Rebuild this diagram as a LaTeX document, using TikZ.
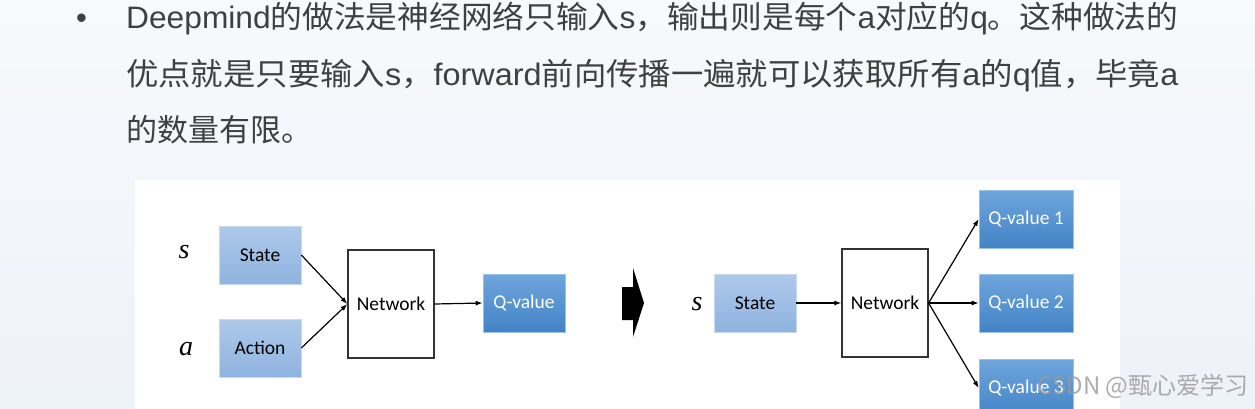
\documentclass[tikz,border=0pt]{standalone}
\usepackage{fontspec}
\usepackage{graphicx}
\setmainfont{Liberation Sans}
\newfontfamily\cjkfont{Noto Sans CJK SC}
\newfontfamily\calibrifont{Carlito}
\newfontfamily\varfont{Liberation Serif}
\usetikzlibrary{arrows.meta}
\newcommand{\zh}[1]{{\cjkfont #1}}
\definecolor{txt}{HTML}{404040}
\definecolor{lbtop}{HTML}{ADC9EA}
\definecolor{lbbot}{HTML}{8FB3DF}
\definecolor{dbtop}{HTML}{6FA6DD}
\definecolor{dbbot}{HTML}{4283C6}
\definecolor{bgtop}{HTML}{F7F9FC}
\definecolor{bgbot}{HTML}{EEF2F9}
\tikzset{
  bodyline/.style={anchor=base west, inner sep=0pt, text=txt, font=\fontsize{31}{31}\selectfont},
  lightbox/.style={rectangle, draw=lbtop!70!white, line width=0.6pt, top color=lbtop, bottom color=lbbot,
    minimum width=82pt, minimum height=58pt, inner sep=0pt, font=\calibrifont\fontsize{19.5}{19.5}\selectfont, text=black},
  darkbox/.style={rectangle, draw=dbtop!70!white, line width=0.6pt, top color=dbtop, bottom color=dbbot,
    minimum width=82pt, minimum height=58pt, inner sep=0pt, font=\calibrifont\fontsize{19.5}{19.5}\selectfont, text=white},
  netbox/.style={rectangle, draw=black!80, line width=1.2pt, fill=white,
    minimum width=86pt, minimum height=108pt, inner sep=0pt, font=\calibrifont\fontsize{19.5}{19.5}\selectfont},
  conn/.style={-{Latex[length=7pt,width=5pt]}, line width=1.2pt, black},
  varlabel/.style={inner sep=0pt, font=\varfont\itshape\fontsize{28}{28}\selectfont}
}
\begin{document}
\begin{tikzpicture}[x=1pt,y=-1pt]
\useasboundingbox (0,0) rectangle (1255,409);
\clip (0,0) rectangle (1255,409);
\shade[top color=bgtop, bottom color=bgbot] (0,0) rectangle (1255,409);
% white panel
\fill[white] (135,180) rectangle (1120,409);

% bullet text
\node[bodyline] (bul) at (76,29) {\textbullet};
\node[bodyline] (l1) at (126,29) {\resizebox{1052pt}{\height}{Deepmind\zh{的做法是神经网络只输入}s\zh{，输出则是每个}a\zh{对应的}q\zh{。这种做法的}}};
\node[bodyline] (l2) at (126,85.5) {\resizebox{1052pt}{\height}{\zh{优点就是只要输入}s\zh{，}forward\zh{前向传播一遍就可以获取所有}a\zh{的}q\zh{值，毕竟}a}};
\node[bodyline] (l3) at (126,142) {\zh{的数量有限。}};

% left diagram
\node[varlabel] (sA) at (184,252) {s};
\node[varlabel] (aA) at (186,349) {a};
\node[lightbox] (stateA) at (260,255) {State};
\node[lightbox] (actionA) at (260,348) {Action};
\node[netbox] (netA) at (391,304) {Network};
\node[darkbox] (qA) at (524,303) {Q-value};
\draw[conn] (stateA.east) -- (netA.west);
\draw[conn] (actionA.east) -- (netA.west);
\draw[conn] (netA.east) -- (qA.west);

% big arrow
\fill[black] (622,287) -- (633,287) -- (633,268) -- (644,303) -- (633,337) -- (633,320) -- (622,320) -- cycle;

% right diagram
\node[varlabel] (sB) at (697,304) {s};
\node[lightbox] (stateB) at (755,303) {State};
\node[netbox] (netB) at (885,303) {Network};
\node[darkbox, minimum width=94pt] (q1) at (1026,219) {Q-value 1};
\node[darkbox, minimum width=94pt] (q2) at (1026,303) {Q-value 2};
\node[darkbox, minimum width=94pt] (q3) at (1026,388) {Q-value 3};
\draw[conn] (stateB.east) -- (netB.west);
\draw[conn] (netB.east) -- (q1.west);
\draw[conn] (netB.east) -- (q2.west);
\draw[conn] (netB.east) -- (q3.west);

% watermark
\node[inner sep=0pt, text=gray!80, opacity=0.8, font=\cjkfont\fontsize{24}{24}\selectfont] (wm) at (1143,386) {CSDN @甄心爱学习};
\end{tikzpicture}
\end{document}
